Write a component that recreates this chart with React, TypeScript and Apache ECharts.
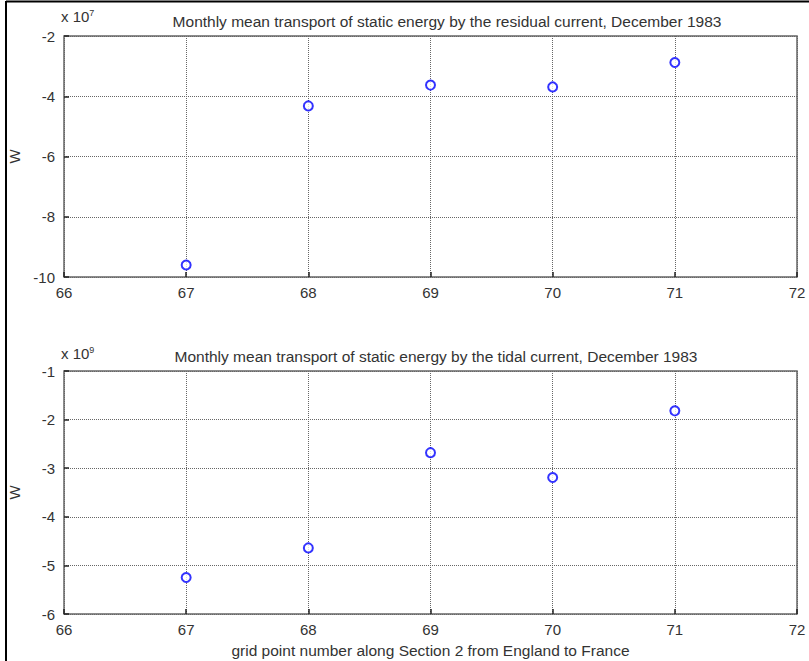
import React, { useEffect, useRef } from "react";
import * as echarts from "echarts";

const gridPoints = [67, 68, 69, 70, 71];
const residualValues = [-9.6, -4.32, -3.63, -3.69, -2.88]; // x 10^7 W
const tidalValues = [-5.25, -4.64, -2.68, -3.19, -1.82]; // x 10^9 W
const titleTop = "Monthly mean transport of static energy by the residual current, December 1983";
const titleBottom = "Monthly mean transport of static energy by the tidal current, December 1983";
const xLabel = "grid point number along Section 2 from England to France";
const yLabel = "W";

const FONT = "Liberation Sans, Arial, sans-serif";

export default function App() {
  const ref = useRef<HTMLDivElement>(null);
  useEffect(() => {
    if (!ref.current) return;
    const chart = echarts.init(ref.current, null, { renderer: "svg" });
    const axisText = { color: "#333", fontFamily: FONT, fontSize: 15 };
    const xAxisBase = (gridIndex: number) => ({
      type: "value" as const,
      gridIndex,
      min: 66,
      max: 72,
      interval: 1,
      axisLine: { show: false },
      axisTick: { show: true, inside: true, length: 5, lineStyle: { color: "#222", width: 1.5 } },
      axisLabel: { ...axisText, margin: 8 },
      splitLine: { show: true, lineStyle: { type: "dotted" as const, color: "#666", width: 1 } },
    });
    const yAxisBase = (gridIndex: number, min: number, max: number, interval: number) => ({
      type: "value" as const,
      gridIndex,
      min,
      max,
      interval,
      axisLine: { show: false },
      axisTick: { show: true, inside: true, length: 5, lineStyle: { color: "#222", width: 1.5 } },
      axisLabel: { ...axisText, margin: 9 },
      splitLine: { show: true, lineStyle: { type: "dotted" as const, color: "#666", width: 1 } },
      name: yLabel,
      nameLocation: "middle" as const,
      nameGap: 42,
      nameRotate: 90,
      nameTextStyle: { ...axisText, fontSize: 15 },
    });
    const marker = {
      type: "scatter" as const,
      symbol: "circle",
      symbolSize: 9,
      itemStyle: { color: "#fff", borderColor: "#0000ff", borderWidth: 2 },
    };
    const titleStyle = { fontFamily: FONT, fontSize: 15.5, fontWeight: "normal" as const, color: "#333" };
    const expRich = { s: { fontSize: 9, fontFamily: FONT, color: "#333", padding: [0, 0, 7, 0] } };
    chart.setOption({
      animation: false,
      backgroundColor: "#fff",
      title: [
        { text: titleTop, left: 442, top: 8, textAlign: "center", textStyle: titleStyle },
        { text: titleBottom, left: 431, top: 343, textAlign: "center", textStyle: titleStyle },
      ],
      grid: [
        { left: 64, right: 12, top: 36, height: 241, show: true, borderColor: "#666", borderWidth: 1.5, backgroundColor: "#fff", outerBoundsMode: "none" },
        { left: 64, right: 12, top: 371, height: 243, show: true, borderColor: "#666", borderWidth: 1.5, backgroundColor: "#fff", outerBoundsMode: "none" },
      ],
      xAxis: [
        xAxisBase(0),
        {
          ...xAxisBase(1),
          name: xLabel,
          nameLocation: "middle",
          nameGap: 28,
          nameTextStyle: { ...axisText, fontSize: 15.5 },
        },
      ],
      yAxis: [yAxisBase(0, -10, -2, 2), yAxisBase(1, -6, -1, 1)],
      graphic: [
        {
          type: "text",
          left: 61,
          top: 8,
          style: { text: "x 10{s|7}", rich: expRich, fontFamily: FONT, fontSize: 15, fill: "#333" },
        },
        {
          type: "text",
          left: 61,
          top: 345,
          style: { text: "x 10{s|9}", rich: expRich, fontFamily: FONT, fontSize: 15, fill: "#333" },
        },
        { type: "line", shape: { x1: 6, y1: 1, x2: 6, y2: 661 }, style: { stroke: "#000", lineWidth: 2 } },
        { type: "line", shape: { x1: 6, y1: 1.5, x2: 809, y2: 1.5 }, style: { stroke: "#000", lineWidth: 2 } },
      ],
      series: [
        { ...marker, xAxisIndex: 0, yAxisIndex: 0, data: gridPoints.map((x, i) => [x, residualValues[i]]) },
        { ...marker, xAxisIndex: 1, yAxisIndex: 1, data: gridPoints.map((x, i) => [x, tidalValues[i]]) },
      ],
    });
    return () => chart.dispose();
  }, []);
  return (
    <div
      ref={ref}
      style={{ position: "fixed", left: 0, top: 0, width: 809, height: 661, background: "#fff" }}
    />
  );
}
